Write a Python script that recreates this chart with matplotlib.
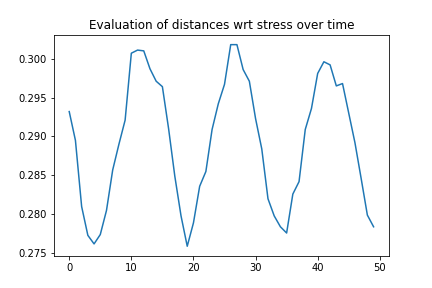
import matplotlib
matplotlib.use("Agg")
import matplotlib.pyplot as plt

# distance values per time step
steps = list(range(50))
distances = [
    0.2932, 0.2895, 0.2810, 0.2773, 0.2762, 0.2774, 0.2805, 0.2857, 0.2890, 0.2921,
    0.3007, 0.3011, 0.3010, 0.2987, 0.2971, 0.2964, 0.2910, 0.2849, 0.2798, 0.2759,
    0.2789, 0.2836, 0.2855, 0.2909, 0.2942, 0.2967, 0.3018, 0.3018, 0.2986, 0.2971,
    0.2923, 0.2884, 0.2820, 0.2798, 0.2784, 0.2776, 0.2826, 0.2842, 0.2909, 0.2936,
    0.2981, 0.2996, 0.2992, 0.2965, 0.2968, 0.2930, 0.2892, 0.2846, 0.2799, 0.2784,
]

fig, ax = plt.subplots(figsize=(6, 4), dpi=72)
ax.plot(steps, distances)
ax.set_title("Evaluation of distances wrt stress over time")

fig.savefig("out.png", dpi=72)
